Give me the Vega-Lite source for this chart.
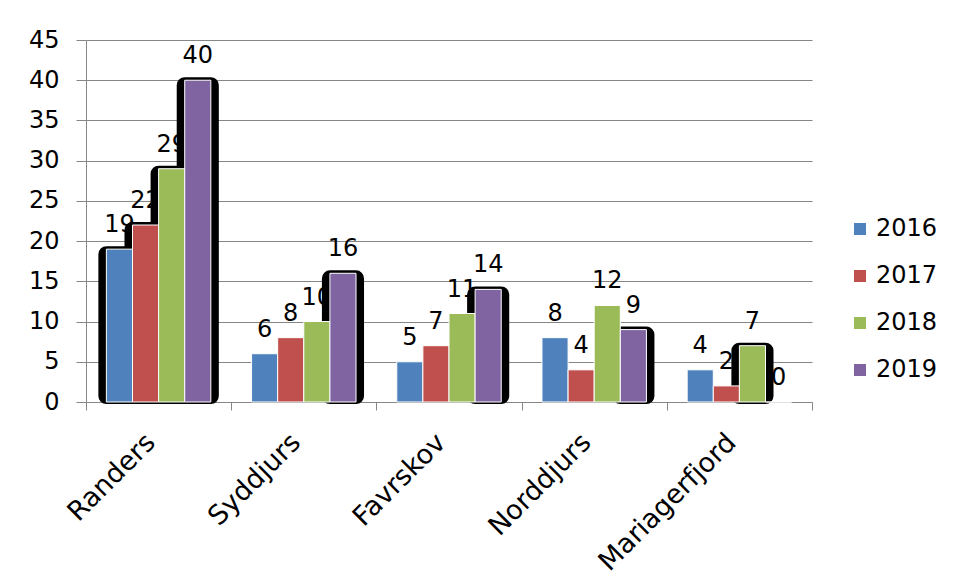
{
  "$schema": "https://vega.github.io/schema/vega-lite/v6.json",
  "width": 726,
  "height": 362,
  "autosize": {"type": "none"},
  "padding": {"left": 86, "top": 40, "right": 145, "bottom": 178},
  "background": "white",
  "config": {
    "view": {"stroke": null},
    "font": "DejaVu Sans",
    "text": {"font": "DejaVu Sans"}
  },
  "data": {
    "values": [
      {"kommune": "Randers", "year": "2016", "value": 19},
      {"kommune": "Randers", "year": "2017", "value": 22},
      {"kommune": "Randers", "year": "2018", "value": 29},
      {"kommune": "Randers", "year": "2019", "value": 40},
      {"kommune": "Syddjurs", "year": "2016", "value": 6},
      {"kommune": "Syddjurs", "year": "2017", "value": 8},
      {"kommune": "Syddjurs", "year": "2018", "value": 10},
      {"kommune": "Syddjurs", "year": "2019", "value": 16},
      {"kommune": "Favrskov", "year": "2016", "value": 5},
      {"kommune": "Favrskov", "year": "2017", "value": 7},
      {"kommune": "Favrskov", "year": "2018", "value": 11},
      {"kommune": "Favrskov", "year": "2019", "value": 14},
      {"kommune": "Norddjurs", "year": "2016", "value": 8},
      {"kommune": "Norddjurs", "year": "2017", "value": 4},
      {"kommune": "Norddjurs", "year": "2018", "value": 12},
      {"kommune": "Norddjurs", "year": "2019", "value": 9},
      {"kommune": "Mariagerfjord", "year": "2016", "value": 4},
      {"kommune": "Mariagerfjord", "year": "2017", "value": 2},
      {"kommune": "Mariagerfjord", "year": "2018", "value": 7},
      {"kommune": "Mariagerfjord", "year": "2019", "value": 0}
    ]
  },
  "encoding": {
    "x": {
      "field": "kommune",
      "type": "nominal",
      "sort": null,
      "scale": {"paddingInner": 0, "paddingOuter": 0},
      "axis": {
        "title": null,
        "tickBand": "extent",
        "domainColor": "#868686",
        "tickColor": "#868686",
        "tickSize": 8,
        "labelAngle": -45,
        "labelAlign": "right",
        "labelBaseline": "middle",
        "labelPadding": 28,
        "labelOffset": -8,
        "labelLimit": 0,
        "labelFontSize": 27,
        "labelColor": "black",
        "labelFont": "DejaVu Sans"
      }
    },
    "xOffset": {
      "field": "year",
      "type": "nominal",
      "scale": {"paddingInner": 0, "paddingOuter": 0.78}
    },
    "y": {
      "field": "value",
      "type": "quantitative",
      "scale": {"domain": [0, 45], "nice": false},
      "axis": {
        "title": null,
        "values": [0, 5, 10, 15, 20, 25, 30, 35, 40, 45],
        "grid": true,
        "gridColor": "#868686",
        "domainColor": "#868686",
        "tickColor": "#868686",
        "tickSize": 10,
        "labelPadding": 17,
        "labelFontSize": 24,
        "labelColor": "black",
        "labelFont": "DejaVu Sans"
      }
    }
  },
  "layer": [
    {
      "mark": {"type": "text", "baseline": "alphabetic", "dy": -17, "fontSize": 24, "color": "black"},
      "encoding": {"text": {"field": "value", "type": "quantitative"}}
    },
    {
      "transform": [
        {"filter": "datum.kommune === 'Randers' || (datum.year === '2019' && datum.kommune !== 'Mariagerfjord') || (datum.kommune === 'Mariagerfjord' && datum.year === '2018')"}
      ],
      "mark": {
        "type": "bar",
        "fill": "black",
        "stroke": "black",
        "strokeWidth": 16,
        "strokeJoin": "round",
        "yOffset": 5,
        "y2Offset": -6
      },
      "encoding": {
        "y2": {"datum": 0}
      }
    },
    {
      "mark": {"type": "bar", "stroke": "white", "strokeWidth": 1},
      "encoding": {
        "color": {
          "field": "year",
          "type": "nominal",
          "scale": {
            "domain": ["2016", "2017", "2018", "2019"],
            "range": ["#4F81BD", "#C0504D", "#9BBB59", "#8064A2"]
          },
          "legend": {
            "title": null,
            "orient": "none",
            "legendX": 762,
            "legendY": 177,
            "symbolType": "square",
            "symbolSize": 144,
            "symbolStrokeWidth": 0,
            "labelFontSize": 24,
            "labelColor": "black",
            "labelFont": "DejaVu Sans",
            "labelOffset": 4,
            "rowPadding": 23
          }
        }
      }
    }
  ]
}
